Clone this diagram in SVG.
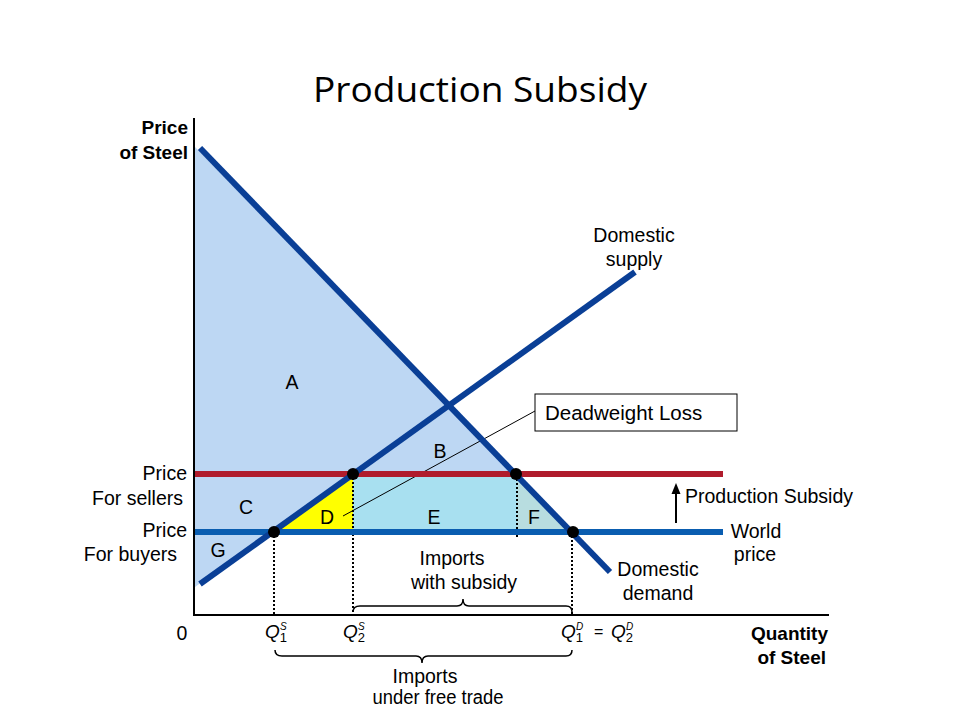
<svg xmlns="http://www.w3.org/2000/svg" width="960" height="720" viewBox="0 0 960 720">
<style>
text{font-family:"Liberation Sans",Arial,sans-serif;fill:#000}
.lbl{font-size:19.5px}
.b{font-size:19px;font-weight:bold}
.dot{fill:#000}
.dash{stroke:#000;stroke-width:2;stroke-dasharray:2 2;fill:none}
.curve{stroke:#0a3f96;stroke-width:6;fill:none}
.q{font-size:19px;font-style:italic}
.sub{font-size:13px}
.sup{font-size:10px;font-style:italic}
.brace{stroke:#000;stroke-width:1.5;fill:none}
</style>
<rect width="960" height="720" fill="#fff"/>
<text x="480" y="102" text-anchor="middle" style="font-family:'Open Sans','Noto Sans',sans-serif;font-size:35px" textLength="334" lengthAdjust="spacingAndGlyphs">Production Subsidy</text>

<g id="areas">
<polygon points="195,147 571,532 272,532 195,587" fill="#bdd7f3"/>
<polygon points="272,532 353,474 353,532" fill="#ffff00"/>
<rect x="353" y="474" width="164" height="58" fill="#a8e0f0"/>
<polygon points="517,474 571,532 517,532" fill="#b8dde0"/>
</g>

<g id="axes">
<line x1="194" y1="118" x2="194" y2="615" stroke="#000" stroke-width="2"/>
<line x1="193" y1="615" x2="829" y2="615" stroke="#000" stroke-width="2"/>
</g>

<g id="connectors">
<line class="dash" x1="274" y1="532" x2="274" y2="615"/>
<line class="dash" x1="353" y1="474" x2="353" y2="615"/>
<line class="dash" x1="517" y1="475" x2="517" y2="538"/>
<line class="dash" x1="572" y1="532" x2="572" y2="615"/>
<line x1="535" y1="411" x2="343" y2="516" stroke="#000" stroke-width="1"/>
<line x1="676" y1="523" x2="676" y2="490" stroke="#000" stroke-width="2"/>
<polygon points="676,483 671.5,494 680.5,494" fill="#000"/>
</g>

<g id="world-price">
<line x1="195" y1="532" x2="723" y2="532" stroke="#0a5db0" stroke-width="6"/>
</g>
<g id="seller-price">
<line x1="195" y1="474" x2="723" y2="474" stroke="#b01c2c" stroke-width="6"/>
</g>
<g id="supply">
<line class="curve" x1="200" y1="584" x2="635" y2="272"/>
</g>
<g id="demand">
<line class="curve" x1="200" y1="148" x2="610" y2="572"/>
</g>

<g id="dots">
<circle class="dot" cx="274" cy="532" r="6"/>
<circle class="dot" cx="353" cy="474" r="6"/>
<circle class="dot" cx="516" cy="474" r="6"/>
<circle class="dot" cx="573" cy="532" r="6"/>
</g>

<g id="area-labels">
<text x="292" y="389" text-anchor="middle" class="lbl">A</text>
<text x="440" y="458" text-anchor="middle" class="lbl">B</text>
<text x="246" y="514" text-anchor="middle" class="lbl">C</text>
<text x="327" y="524" text-anchor="middle" class="lbl">D</text>
<text x="434" y="524" text-anchor="middle" class="lbl">E</text>
<text x="534" y="524" text-anchor="middle" class="lbl">F</text>
<text x="218" y="557" text-anchor="middle" class="lbl">G</text>
</g>

<g id="axis-labels">
<text x="188" y="134" text-anchor="end" class="b">Price</text>
<text x="188" y="159" text-anchor="end" class="b">of Steel</text>
<text x="828" y="640" text-anchor="end" class="b">Quantity</text>
<text x="826" y="664" text-anchor="end" class="b">of Steel</text>
<text x="182" y="640" text-anchor="middle" class="lbl">0</text>
<text x="187" y="480" text-anchor="end" class="lbl">Price</text>
<text x="183" y="505" text-anchor="end" class="lbl">For sellers</text>
<text x="187" y="537" text-anchor="end" class="lbl">Price</text>
<text x="177" y="561" text-anchor="end" class="lbl">For buyers</text>
</g>

<g id="curve-labels">
<text x="634" y="242" text-anchor="middle" class="lbl">Domestic</text>
<text x="634" y="266" text-anchor="middle" class="lbl">supply</text>
<text x="658" y="576" text-anchor="middle" class="lbl">Domestic</text>
<text x="658" y="600" text-anchor="middle" class="lbl">demand</text>
<text x="756" y="538" text-anchor="middle" class="lbl">World</text>
<text x="755" y="561" text-anchor="middle" class="lbl">price</text>
<text x="685" y="503" class="lbl">Production Subsidy</text>
</g>

<g id="deadweight-loss">
<rect x="535" y="394" width="202" height="37" fill="#fff" stroke="#000" stroke-width="1"/>
<text x="545" y="420" style="font-size:20.5px">Deadweight Loss</text>
</g>

<g id="imports-subsidy">
<path class="brace" d="M353,612 Q353,606 360,606 L457,606 Q463,606 463,599 Q463,606 469,606 L566,606 Q572,606 572,612"/>
<text x="452" y="565" text-anchor="middle" class="lbl">Imports</text>
<text x="464" y="589" text-anchor="middle" class="lbl">with subsidy</text>
</g>

<g id="imports-free">
<path class="brace" d="M275,650 Q275,656 282,656 L416,656 Q422,656 422,663 Q422,656 428,656 L566,656 Q572,656 572,650"/>
<text x="425" y="683" text-anchor="middle" class="lbl">Imports</text>
<text x="438" y="704" text-anchor="middle" class="lbl" textLength="131" lengthAdjust="spacingAndGlyphs">under free trade</text>
</g>

<g id="quantities">
<text x="265" y="638"><tspan class="q">Q</tspan><tspan class="sub" dy="4">1</tspan><tspan class="sup" dx="-7" dy="-12">S</tspan></text>
<text x="343" y="638"><tspan class="q">Q</tspan><tspan class="sub" dy="4">2</tspan><tspan class="sup" dx="-7" dy="-12">S</tspan></text>
<text x="561" y="638"><tspan class="q">Q</tspan><tspan class="sub" dy="4">1</tspan><tspan class="sup" dx="-7" dy="-12">D</tspan></text>
<text x="594" y="637" style="font-size:16px">=</text>
<text x="611" y="638"><tspan class="q">Q</tspan><tspan class="sub" dy="4">2</tspan><tspan class="sup" dx="-7" dy="-12">D</tspan></text>
</g>
</svg>
